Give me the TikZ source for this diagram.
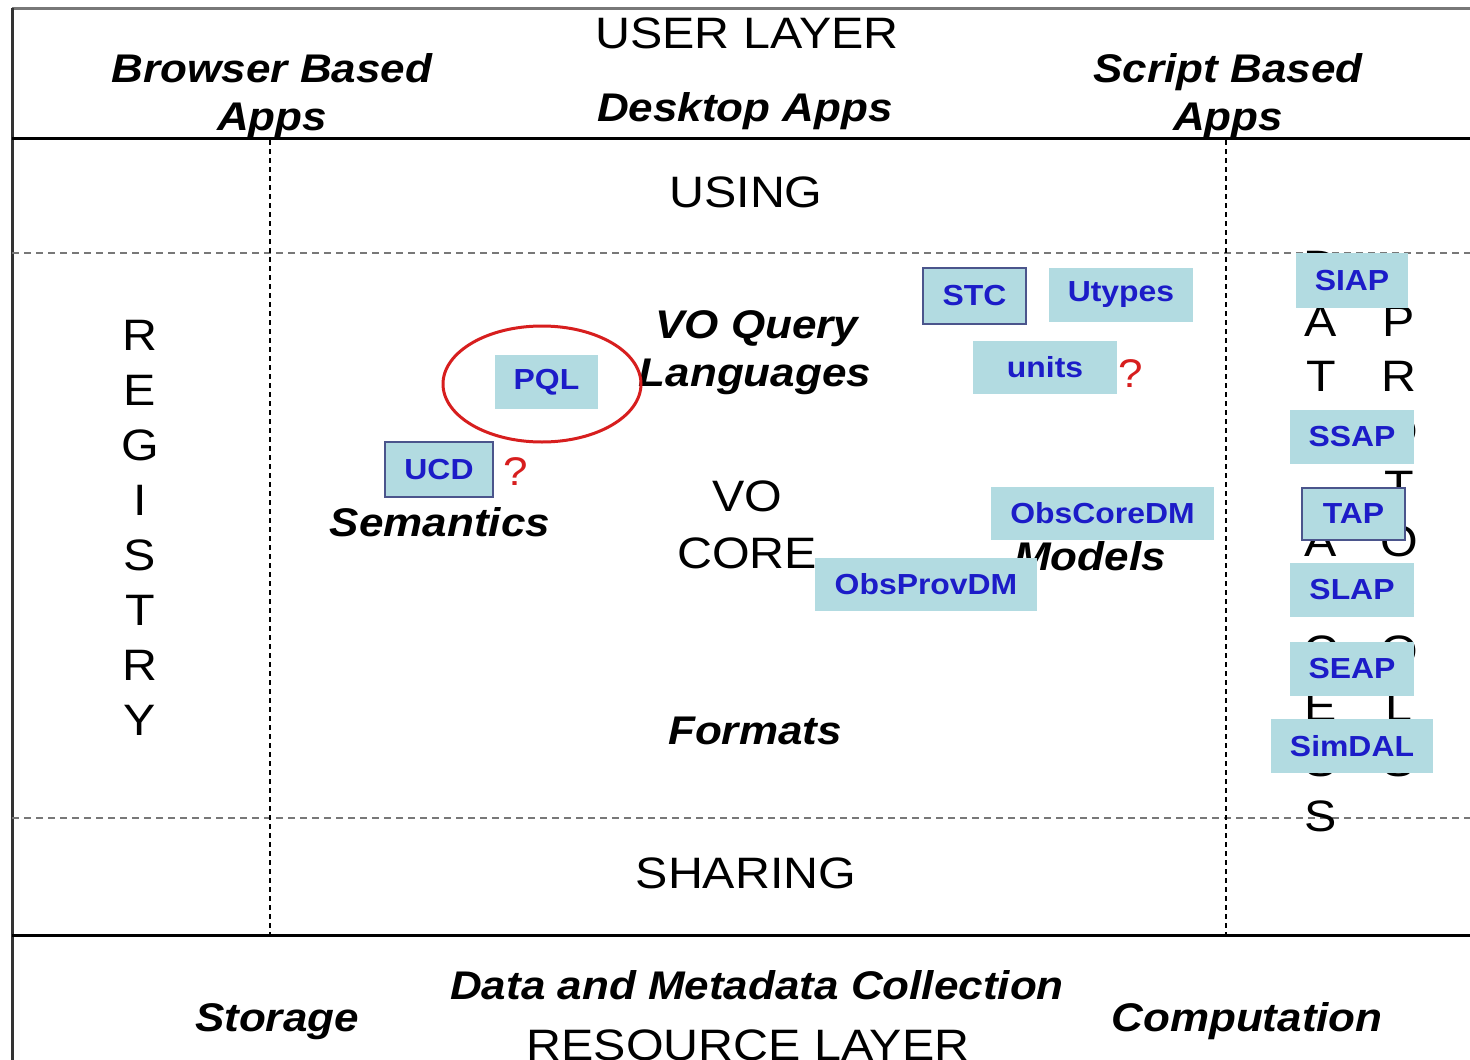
\documentclass[tikz,border=0pt]{standalone}
\usepackage{fontspec}
\usetikzlibrary{shapes.geometric}
\setmainfont{Liberation Sans}[FakeStretch=1.1]
\definecolor{boxfill}{RGB}{178,219,225}
\definecolor{boxtext}{RGB}{28,28,200}
\definecolor{boxedge}{RGB}{75,85,140}
\definecolor{qred}{RGB}{215,30,30}
\definecolor{gridgray}{RGB}{120,120,120}
\tikzset{
  reg/.style={font=\fontsize{44}{55}\selectfont, inner sep=0pt},
  bi/.style={font=\fontsize{40}{48}\selectfont\bfseries\itshape, inner sep=0pt, anchor=base},
  lbl/.style={font=\fontsize{44}{55}\selectfont, inner sep=0pt, anchor=base},
  vobox/.style={fill=boxfill, text=boxtext, font=\fontsize{29}{34}\selectfont\bfseries, inner sep=0pt},
  edged/.style={draw=boxedge, line width=1.5pt},
  qmark/.style={text=qred, font=\fontsize{40}{48}\selectfont, inner sep=0pt, anchor=base},
  sepline/.style={line width=3pt},
  dashline/.style={gridgray, line width=2pt, dash pattern=on 7pt off 5pt},
  dotline/.style={black, line width=1.6pt, dash pattern=on 5pt off 4pt}
}
\begin{document}
\begin{tikzpicture}[x=1pt,y=-1pt]
\fill[white] (0,0) rectangle (1470,1060);
\useasboundingbox (0,0) rectangle (1470,1060);

% frame lines
\coordinate (tl) at (12,8);
\coordinate (tr) at (1470,8);
\coordinate (bl) at (12,1060);
\coordinate (u1) at (12,138);
\coordinate (u2) at (1470,138);
\coordinate (r1) at (12,935);
\coordinate (r2) at (1470,935);
\coordinate (d1) at (12,253);
\coordinate (d2) at (1470,253);
\coordinate (e1) at (12,818);
\coordinate (e2) at (1470,818);
\coordinate (va1) at (270,140);
\coordinate (va2) at (270,935);
\coordinate (vb1) at (1226,140);
\coordinate (vb2) at (1226,935);

\draw[gridgray, line width=3pt] (tl) -- (tr);
\draw[black!80, line width=3pt] (tl) -- (bl);
\draw[dashline] (d1) -- (d2);
\draw[dashline] (e1) -- (e2);
\draw[dotline] (va1) -- (va2);
\draw[dotline] (vb1) -- (vb2);
\draw[sepline] (u1) -- (u2);
\draw[sepline] (r1) -- (r2);

% user layer
\node[lbl] (userlayer) at (747,48) {USER LAYER};
\node[bi] (browser1) at (272,82) {Browser Based};
\node[bi] (browser2) at (272,130) {Apps};
\node[bi] (desktop) at (745,121) {Desktop Apps};
\node[bi] (script1) at (1228,82) {Script Based};
\node[bi] (script2) at (1228,130) {Apps};

% core
\node[lbl] (using) at (746,207) {USING};
\node[reg, align=center] (registry) at (140,527.5) {R\\E\\G\\I\\S\\T\\R\\Y};
\node[reg, align=center] (dataaccess) at (1321,541.5) {D\\A\\T\\A\\\mbox{}\\A\\C\\C\\E\\S\\S};
\node[reg, align=center] (protocols) at (1399,541.5) {P\\R\\O\\T\\O\\C\\O\\L\\S};

\node[bi] (voquery1) at (757,338) {VO Query};
\node[bi] (voquery2) at (755,386) {Languages};
\node[lbl] (vo1) at (747,511) {VO};
\node[lbl] (vo2) at (747,568) {CORE};
\node[bi] (semantics) at (440,536) {Semantics};
\node[bi] (models) at (1090,570) {Models};
\node[bi] (formats) at (755,744) {Formats};
\node[lbl] (sharing) at (746,888) {SHARING};

% boxes
\node[vobox, edged, minimum width=103pt, minimum height=56pt] (stc) at (974.5,296) {STC};
\node[vobox, minimum width=144pt, minimum height=54pt] (utypes) at (1121,295) {Utypes};
\node[vobox, minimum width=144pt, minimum height=53pt] (units) at (1045,367.5) {units};
\node[qmark] (q1) at (1131,387) {?};
\node[vobox, minimum width=103pt, minimum height=54pt] (pql) at (546.5,382) {PQL};
\node[draw=qred, line width=3pt, ellipse, minimum width=198pt, minimum height=116pt] (ring) at (542,384) {};
\node[vobox, edged, minimum width=108pt, minimum height=55pt] (ucd) at (439,469.5) {UCD};
\node[qmark] (q2) at (516,485) {?};
\node[vobox, minimum width=223pt, minimum height=53pt] (obscore) at (1102.5,513.5) {ObsCoreDM};
\node[vobox, minimum width=222pt, minimum height=53pt] (obsprov) at (926,584.5) {ObsProvDM};

\node[vobox, minimum width=112pt, minimum height=55pt] (siap) at (1352,280.5) {SIAP};
\node[vobox, minimum width=124pt, minimum height=54pt] (ssap) at (1352,437) {SSAP};
\node[vobox, edged, minimum width=103pt, minimum height=52pt] (tap) at (1353.5,514) {TAP};
\node[vobox, minimum width=124pt, minimum height=54pt] (slap) at (1352,590) {SLAP};
\node[vobox, minimum width=124pt, minimum height=54pt] (seap) at (1352,669) {SEAP};
\node[vobox, minimum width=162pt, minimum height=54pt] (simdal) at (1352,746) {SimDAL};

% resource layer
\node[bi] (datacoll) at (757,999) {Data and Metadata Collection};
\node[bi] (storage) at (277,1031) {Storage};
\node[bi] (computation) at (1247,1031) {Computation};
\node[lbl] (resource) at (748,1060) {RESOURCE LAYER};
\end{tikzpicture}
\end{document}
